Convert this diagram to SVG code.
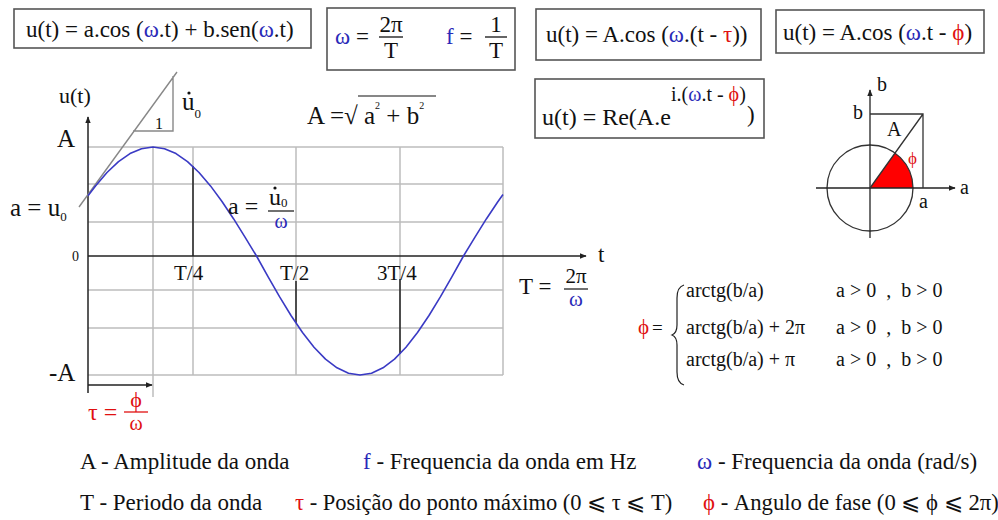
<svg xmlns="http://www.w3.org/2000/svg" width="998" height="520" viewBox="0 0 998 520" font-family="'Liberation Serif', 'Times New Roman', serif">
<defs>
<style>
text{fill:#111}
.b{fill:#2a2ab8}
.r{fill:#e01010}
.box{fill:none;stroke:#555;stroke-width:1.6}
.grid{stroke:#bdbdbd;stroke-width:1.5;fill:none}
.ax{stroke:#222;stroke-width:1.5;fill:none}
.f23{font-size:23px}
.f20{font-size:20px}
</style>
<marker id="arr" viewBox="0 0 10 10" refX="9" refY="5" markerWidth="7" markerHeight="7" orient="auto" markerUnits="userSpaceOnUse">
<path d="M0,1 L10,5 L0,9 z" fill="#222"/>
</marker>
</defs>
<rect width="998" height="520" fill="#fff"/>

<g id="box1">
<rect class="box" x="14" y="9" width="297" height="39"/>
<text class="f23" x="26" y="37">u(t) = a.cos (<tspan class="b">ω</tspan>.t) + b.sen(<tspan class="b">ω</tspan>.t)</text>
</g>

<g id="box2">
<rect class="box" x="327" y="8" width="188" height="62"/>
<text class="f23" x="335" y="44"><tspan class="b">ω</tspan> =</text>
<text class="f23" x="391" y="32" text-anchor="middle">2π</text>
<line x1="379" y1="37" x2="403" y2="37" stroke="#111" stroke-width="1.3"/>
<text class="f23" x="391" y="58" text-anchor="middle">T</text>
<text class="f23" x="446" y="44"><tspan class="b">f</tspan> =</text>
<text class="f23" x="496" y="32" text-anchor="middle">1</text>
<line x1="485" y1="37" x2="507" y2="37" stroke="#111" stroke-width="1.3"/>
<text class="f23" x="496" y="58" text-anchor="middle">T</text>
</g>

<g id="box3">
<rect class="box" x="536" y="9" width="225" height="51"/>
<text class="f23" x="546" y="42">u(t) = A.cos (<tspan class="b">ω</tspan>.(t - <tspan class="r">τ</tspan>))</text>
</g>

<g id="box4">
<rect class="box" x="776" y="10" width="208" height="43"/>
<text class="f23" x="783" y="40">u(t) = A.cos (<tspan class="b">ω</tspan>.t - <tspan class="r">ϕ</tspan>)</text>
</g>

<g id="box5">
<rect class="box" x="535" y="79" width="229" height="59"/>
<text x="542" y="125" style="font-size:24px">u(t) = Re(A.e</text>
<text class="f20" x="671" y="101">i.(<tspan class="b">ω</tspan>.t - <tspan class="r">ϕ</tspan>)</text>
<text class="f23" x="747" y="122">)</text>
</g>

<g id="amp">
<text x="307" y="124" style="font-size:25px">A =√ a<tspan dy="-15" style="font-size:10px">2</tspan><tspan dy="15"> + b</tspan><tspan dy="-15" style="font-size:10px">2</tspan></text>
<line x1="358" y1="96" x2="436" y2="96" stroke="#111" stroke-width="1.2"/>
</g>

<g id="grid">
<path class="grid" d="M88,147 H503 M88,184 H503 M88,222 H503 M88,290 H503 M88,328 H503 M88,375 H503 M153,147 V397 M193,147 V375 M296,147 V375 M400,147 V375 M503,147 V375"/>
</g>

<g id="connectors">
<line class="ax" x1="88" y1="393" x2="88" y2="117" marker-end="url(#arr)"/>
<line class="ax" x1="88" y1="256" x2="586" y2="256" marker-end="url(#arr)"/>
<line class="ax" x1="193" y1="166" x2="193" y2="256"/>
<line class="ax" x1="296" y1="281" x2="296" y2="323"/>
<line class="ax" x1="400" y1="279" x2="400" y2="354"/>
<line class="ax" x1="88" y1="385" x2="152" y2="385" marker-end="url(#arr)"/>
<path d="M79,207 L177,72 M173,76 V131 H133" fill="none" stroke="#888" stroke-width="1.4"/>
</g>

<g id="curve">
<path fill="none" stroke="#3a3ac4" stroke-width="1.6" stroke-linejoin="round" d="M88,195.8 L95.5,185.9 107,172.5 118.5,161.6 130,153.6 141.5,148.7 153,147 164.5,148.7 176,153.6 187.5,161.6 199,172.5 210.5,185.9 222,201.5 233.5,218.7 245,237.1 256.5,256 268,276.7 279.5,296.7 291,315.5 302.5,332.5 314,347.2 325.5,359.1 337,367.8 348.5,373.2 360,375 371.5,373.2 383,367.8 394.5,359.1 406,347.2 417.5,332.5 429,315.5 440.5,296.7 452,276.7 463.5,256 475,237.1 486.5,218.7 498,201.5 503,194.5"/>
</g>

<g id="graph-labels">
<text x="59" y="103" style="font-size:22px">u(t)</text>
<text x="57" y="147" style="font-size:25px">A</text>
<text x="10" y="216" style="font-size:25px">a = u<tspan dy="5" style="font-size:13px">0</tspan></text>
<text x="72" y="261" style="font-size:14px">0</text>
<text x="49" y="381" style="font-size:25px">-A</text>
<text x="174" y="280" style="font-size:21px">T/4</text>
<text x="280" y="280" style="font-size:21px">T/2</text>
<text x="377" y="280" style="font-size:21px">3T/4</text>
<text x="598" y="262" style="font-size:23px">t</text>
<text x="519" y="294" style="font-size:23px">T =</text>
<text x="576" y="283" text-anchor="middle" style="font-size:21px">2π</text>
<line x1="564" y1="289" x2="588" y2="289" stroke="#111" stroke-width="1.2"/>
<text class="b" x="576" y="306" text-anchor="middle" style="font-size:21px">ω</text>
<text x="155" y="129" style="font-size:16px">1</text>
<text x="182" y="110" style="font-size:25px">u<tspan dy="8" style="font-size:13px">0</tspan></text>
<circle cx="189" cy="93" r="1.6" fill="#111"/>
<text x="228" y="214" style="font-size:24px">a =</text>
<text x="269" y="205" style="font-size:24px">u<tspan dy="2" style="font-size:13px">0</tspan></text>
<circle cx="275" cy="188" r="1.6" fill="#111"/>
<line x1="268" y1="211" x2="294" y2="211" stroke="#111" stroke-width="1.2"/>
<text class="b" x="281" y="228" text-anchor="middle" style="font-size:20px">ω</text>
<text class="r" x="88" y="420" style="font-size:24px">τ =</text>
<line x1="124" y1="412" x2="148" y2="412" stroke="#e01010" stroke-width="1.3"/>
<text class="r" x="136" y="407" text-anchor="middle" style="font-size:22px">ϕ</text>
<text class="r" x="136" y="430" text-anchor="middle" style="font-size:20px">ω</text>
</g>

<g id="phasor">
<path d="M870,188 L913,188 A43,43 0 0 0 895,153 Z" fill="#ff0000"/>
<circle cx="870" cy="188" r="43" fill="none" stroke="#333" stroke-width="1.3"/>
<line class="ax" x1="816" y1="188" x2="955" y2="188" marker-end="url(#arr)" style="stroke-width:1.3"/>
<line class="ax" x1="870" y1="238" x2="870" y2="90" marker-end="url(#arr)" style="stroke-width:1.3"/>
<path d="M870,114 H923 V188 M870,188 L923,114" fill="none" stroke="#333" stroke-width="1.3"/>
<text class="f20" x="877" y="91">b</text>
<text class="f20" x="853" y="119">b</text>
<text class="f20" x="887" y="136">A</text>
<text class="r" x="908" y="164" style="font-size:17px">ϕ</text>
<text class="f20" x="960" y="194">a</text>
<text class="f20" x="919" y="208">a</text>
</g>

<g id="phase-formula">
<text class="r" x="638" y="334" style="font-size:21px">ϕ</text>
<text x="652" y="334" style="font-size:19px">=</text>
<path d="M684,285 Q677,287 677,298 V325 Q677,333 672,335 Q677,337 677,345 V372 Q677,383 684,385" fill="none" stroke="#222" stroke-width="1.2"/>
<text class="f20" x="686" y="297">arctg(b/a)</text>
<text class="f20" x="686" y="334">arctg(b/a) + 2π</text>
<text class="f20" x="686" y="366">arctg(b/a) + π</text>
<text class="f20" x="836" y="297" xml:space="preserve">a &gt; 0  ,  b &gt; 0</text>
<text class="f20" x="836" y="334" xml:space="preserve">a &gt; 0  ,  b &gt; 0</text>
<text class="f20" x="836" y="366" xml:space="preserve">a &gt; 0  ,  b &gt; 0</text>
</g>

<g id="legend">
<text class="f23" x="80" y="469">A - Amplitude da onda</text>
<text class="f23" x="363" y="469"><tspan class="b">f</tspan> - Frequencia da onda em Hz</text>
<text class="f23" x="697" y="469"><tspan class="b">ω</tspan> - Frequencia da onda (rad/s)</text>
<text class="f23" x="80" y="510">T - Periodo da onda</text>
<text x="295" y="510" style="font-size:22.5px"><tspan class="r">τ</tspan> - Posição do ponto máximo (0 ⩽ τ ⩽ T)</text>
<text x="703" y="510" style="font-size:22.7px"><tspan class="r">ϕ</tspan> - Angulo de fase (0 ⩽ ϕ ⩽ 2π)</text>
</g>
</svg>
